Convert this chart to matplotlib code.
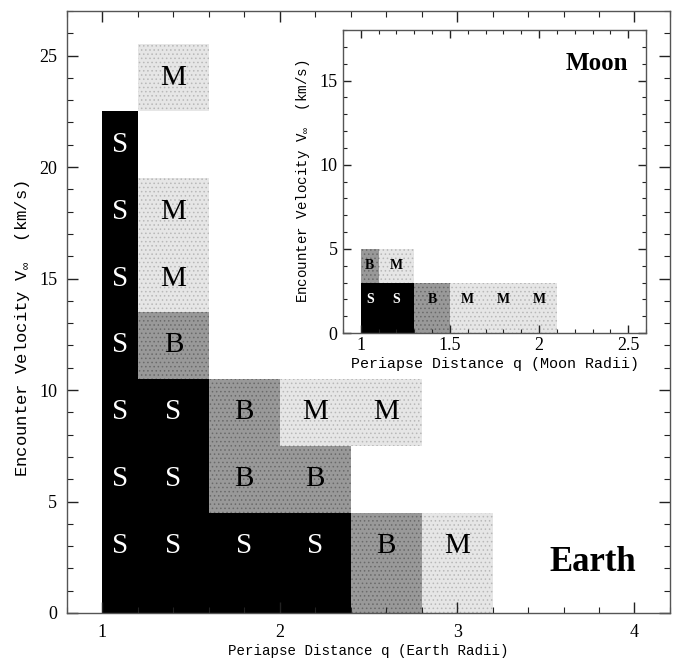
import matplotlib
matplotlib.use("Agg")
import matplotlib.pyplot as plt
from matplotlib.patches import Rectangle
from matplotlib.ticker import MultipleLocator

# ---------------- data ----------------
# Earth grid
earth_q_edges = [1.0, 1.2, 1.6, 2.0, 2.4, 2.8, 3.2]
earth_v_edges = [0.0, 4.5, 7.5, 10.5, 13.5, 16.5, 19.5, 22.5, 25.5]
earth_q_labels = [1.1, 1.4, 1.8, 2.2, 2.6, 3.0]
earth_v_labels = [3, 6, 9, 12, 15, 18, 21, 24]
earth_rows = [          # bottom to top, '.' = no outcome
    "SSSSBM",
    "SSBB..",
    "SSBMM.",
    "SB....",
    "SM....",
    "SM....",
    "S.....",
    ".M....",
]

# Moon grid
moon_q_edges = [1.0, 1.1, 1.3, 1.5, 1.7, 1.9, 2.1]
moon_v_edges = [0.0, 3.0, 5.0]
moon_q_labels = [1.05, 1.2, 1.4, 1.6, 1.8, 2.0]
moon_v_labels = [2, 4]
moon_rows = [
    "SSBMMM",
    "BM....",
]

fill = {"S": "#000000", "B": "#999999", "M": "#e6e6e6"}
hatchcol = {"S": "#000000", "B": "#6a6a6a", "M": "#b8b8b8"}
textcol = {"S": "white", "B": "black", "M": "black"}

serif = ["Liberation Serif", "DejaVu Serif"]
mono = ["Liberation Mono", "DejaVu Sans Mono"]
plt.rcParams["font.family"] = serif
plt.rcParams["hatch.linewidth"] = 0.6
plt.rcParams["mathtext.fontset"] = "custom"
plt.rcParams["mathtext.rm"] = "Liberation Mono"


def draw_grid(ax, qe, ve, ql, vl, rows, fs, weight):
    for i, row in enumerate(rows):
        for j, c in enumerate(row):
            if c == ".":
                continue
            r = Rectangle((qe[j], ve[i]), qe[j + 1] - qe[j], ve[i + 1] - ve[i],
                          facecolor=fill[c], edgecolor=hatchcol[c], lw=0,
                          hatch=None if c == "S" else "....", zorder=1)
            ax.add_patch(r)
            ax.text(ql[j], vl[i], c, color=textcol[c], fontsize=fs,
                    fontweight=weight, ha="center", va="center", zorder=3)


def style_axes(ax, maj_len, min_len):
    for s in ax.spines.values():
        s.set_color("#555555")
        s.set_linewidth(1.0)
    ax.tick_params(which="both", direction="in", top=True, right=True,
                   color="#222222", labelsize=13)
    ax.tick_params(which="major", length=maj_len, width=1.0)
    ax.tick_params(which="minor", length=min_len, width=0.8)


fig = plt.figure(figsize=(6.74, 6.58), dpi=100)

# ---------------- main (Earth) ----------------
ax = fig.add_axes([0.0994, 0.0684, 0.8946, 0.9149])
draw_grid(ax, earth_q_edges, earth_v_edges, earth_q_labels, earth_v_labels,
          earth_rows, 21, "normal")
ax.set_xlim(0.8, 4.2)
ax.set_ylim(0, 27)
ax.xaxis.set_major_locator(MultipleLocator(1))
ax.xaxis.set_minor_locator(MultipleLocator(0.2))
ax.yaxis.set_major_locator(MultipleLocator(5))
ax.yaxis.set_minor_locator(MultipleLocator(1))
style_axes(ax, 8, 4)
ax.tick_params(axis="x", pad=8)
ax.tick_params(axis="y", pad=7)
ax.set_xlabel("Periapse Distance q (Earth Radii)", fontsize=10.2,
              family=mono, labelpad=2)
ax.set_ylabel(r"Encounter Velocity V$_\infty$  (km/s)", fontsize=12.4,
              family=mono)
ax.yaxis.set_label_coords(-0.058, 0.472)
ax.text(4.01, 1.9, "Earth", fontsize=25, fontweight="bold", ha="right",
        va="baseline", zorder=4)

# ---------------- inset (Moon) ----------------
axi = fig.add_axes([0.5089, 0.4939, 0.4496, 0.4605])
draw_grid(axi, moon_q_edges, moon_v_edges, moon_q_labels, moon_v_labels,
          moon_rows, 10, "bold")
axi.set_xlim(0.9, 2.6)
axi.set_ylim(0, 18)
axi.xaxis.set_major_locator(MultipleLocator(0.5))
axi.xaxis.set_minor_locator(MultipleLocator(0.1))
axi.yaxis.set_major_locator(MultipleLocator(5))
axi.yaxis.set_minor_locator(MultipleLocator(1))
axi.set_xticks([1, 1.5, 2, 2.5])
axi.set_xticklabels(["1", "1.5", "2", "2.5"])
style_axes(axi, 6, 3)
axi.tick_params(labelsize=13)
axi.tick_params(axis="x", pad=3)
axi.tick_params(axis="y", pad=4)
axi.set_xlabel("Periapse Distance q (Moon Radii)", fontsize=10.8,
               family=mono, labelpad=2)
axi.set_ylabel(r"Encounter Velocity V$_\infty$  (km/s)", fontsize=10.2,
               family=mono, labelpad=5)
axi.text(2.5, 15.6, "Moon", fontsize=18, fontweight="bold", ha="right",
         va="baseline", zorder=4)

fig.savefig("out.png", dpi=100)
